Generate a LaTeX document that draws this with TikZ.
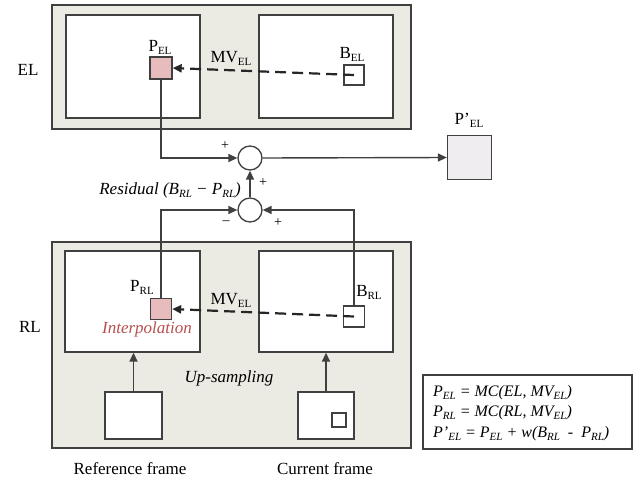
\documentclass[tikz,border=0pt]{standalone}
\usepackage{fontspec}
\setmainfont{Liberation Serif}
\usetikzlibrary{arrows.meta}
\definecolor{panel}{HTML}{ECEBE3}
\definecolor{edge}{HTML}{404040}
\definecolor{pinkfill}{HTML}{E8BCBC}
\definecolor{predfill}{HTML}{F0EDF0}
\definecolor{interp}{HTML}{B85050}
\newcommand\lsub[1]{\raisebox{-0.4ex}{\fontsize{11}{11}\selectfont #1}}
\newcommand\isub[1]{\raisebox{-0.4ex}{\fontsize{11}{11}\selectfont\itshape #1}}
\tikzset{
  box/.style={draw=edge, line width=1.3pt, inner sep=0pt, anchor=center},
  panelbox/.style={box, fill=panel},
  framebox/.style={box, fill=white},
  blk/.style={box, line width=1.3pt},
  sumnode/.style={circle, draw=edge, line width=1.3pt, fill=white, minimum size=24pt, inner sep=0pt},
  lbl/.style={font=\fontsize{17}{19}\selectfont, inner sep=0pt},
  ilbl/.style={font=\fontsize{17}{19}\selectfont\itshape, inner sep=0pt},
  sgn/.style={font=\fontsize{14}{14}\selectfont, inner sep=0pt},
  conn/.style={draw=edge, line width=1.4pt, -{Triangle[length=9pt,width=8pt]}},
  mv/.style={draw=black!85, line width=2.2pt, dash pattern=on 11pt off 6pt, -{Triangle[length=9pt,width=8pt]}}
}
\begin{document}
\begin{tikzpicture}[x=1pt,y=-1pt]
\useasboundingbox (0,0) rectangle (636,479);
% EL layer
\node[panelbox, minimum width=359pt, minimum height=124pt] (elbox) at (231.5,67) {};
\node[framebox, minimum width=134pt, minimum height=103pt] (elL) at (133,66.5) {};
\node[framebox, minimum width=134pt, minimum height=103pt] (elR) at (326,66.5) {};
\node[blk, fill=pinkfill, minimum size=22pt] (pel) at (161,68) {};
\node[blk, fill=white, minimum size=20pt] (bel) at (354,75) {};
\node[lbl] (ellab) at (28,70) {EL};
\node[lbl] (pellab) at (160,47) {P\lsub{EL}};
\node[lbl] (bellab) at (352,54) {B\lsub{EL}};
\node[lbl] (mvel1) at (231,58) {MV\lsub{EL}};
\draw[mv] (bel.center) -- (pel.east);
% summation
\node[sumnode] (c1) at (250,158) {};
\node[sumnode] (c2) at (250,210) {};
\node[blk, fill=predfill, minimum size=44pt] (pp) at (469.5,157.5) {};
\node[lbl] (pplab) at (469,120) {P'\lsub{EL}};
\node[sgn] (s1) at (225,146) {+};
\node[sgn] (s2) at (263,183) {+};
\node[sgn] (s3) at (226,223) {\textendash};
\node[sgn] (s4) at (278,223) {+};
\node[ilbl, anchor=east] (res) at (241,190) {Residual (B\isub{RL} \textminus\ P\isub{RL})};
% RL layer
\node[panelbox, minimum width=359pt, minimum height=206pt] (rlbox) at (231.5,345) {};
\node[framebox, minimum width=135pt, minimum height=101pt] (rlL) at (132.5,301.5) {};
\node[framebox, minimum width=134pt, minimum height=101pt] (rlR) at (326,301.5) {};
\node[blk, fill=pinkfill, minimum size=21pt] (prl) at (161,309) {};
\node[blk, fill=white, minimum size=21pt] (brl) at (354,316.5) {};
\node[lbl] (rllab) at (30,327) {RL};
\node[lbl] (prllab) at (142,287) {P\lsub{RL}};
\node[lbl] (brllab) at (369,292) {B\lsub{RL}};
\node[lbl] (mvel2) at (231,300) {MV\lsub{EL}};
\node[ilbl, text=interp] (interpl) at (147,329) {Interpolation};
\node[ilbl] (ups) at (229,378) {Up-sampling};
\draw[mv] (brl.center) -- (prl.east);
\node[blk, fill=white, minimum width=57pt, minimum height=47pt] (sL) at (133.5,415.5) {};
\node[blk, fill=white, minimum width=56pt, minimum height=47pt] (sR) at (326,415.5) {};
\node[blk, fill=white, line width=1.1pt, minimum size=14pt] (tiny) at (339,420) {};
\node[lbl] (reflab) at (130,469) {Reference frame};
\node[lbl] (curlab) at (325,469) {Current frame};
% connectors
\draw[conn] (pel.south) |- (c1.west);
\draw[conn] (c1.east) -- (pp.west);
\draw[conn] (c2.north) -- (c1.south);
\draw[conn] (prl.north) |- (c2.west);
\draw[conn] (brl.north) |- (c2.east);
\draw[conn] (sL.north) -- (sL.north |- rlL.south);
\draw[conn] (sR.north) -- (sR.north |- rlR.south);
% formula box
\node[blk, fill=white, minimum width=209pt, minimum height=74pt] (fbox) at (527.5,412) {};
\node[ilbl, anchor=west, font=\fontsize{16}{18}\selectfont\itshape] (f1) at (433,393) {P\isub{EL} = MC(EL, MV\isub{EL})};
\node[ilbl, anchor=west, font=\fontsize{16}{18}\selectfont\itshape] (f2) at (433,413) {P\isub{RL} = MC(RL, MV\isub{EL})};
\node[ilbl, anchor=west, font=\fontsize{16}{18}\selectfont\itshape] (f3) at (433,434) {P'\isub{EL} = P\isub{EL} + w(B\isub{RL} \ - \ P\isub{RL})};
\end{tikzpicture}
\end{document}
